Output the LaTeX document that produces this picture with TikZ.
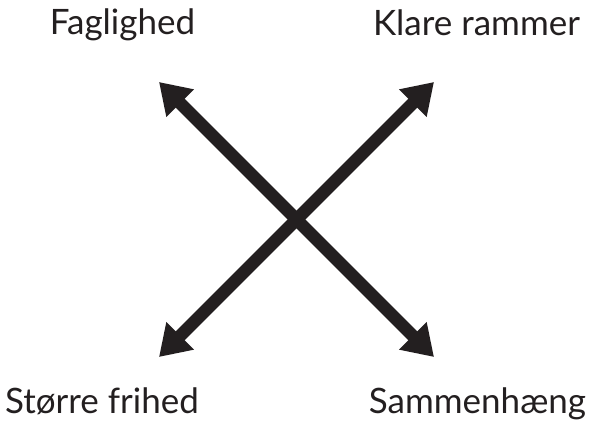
\documentclass[tikz,border=0pt]{standalone}
\usepackage{fontspec}
\setmainfont{Lato}
\usetikzlibrary{arrows.meta}
\definecolor{ink}{HTML}{231F20}
\tikzset{
  lbl/.style={anchor=base, inner sep=0pt, text=ink, font=\fontsize{35}{40}\selectfont},
  dbl/.style={draw=ink, line width=12.5pt, {Triangle[length=30pt,width=37pt]}-{Triangle[length=30pt,width=37pt]}}
}
\begin{document}
\begin{tikzpicture}[x=1pt,y=-1pt]
\useasboundingbox (0,0) rectangle (590,425);
\coordinate (tl) at (159,82);
\coordinate (tr) at (434,82);
\coordinate (bl) at (159,357);
\coordinate (br) at (434,357);
\draw[dbl] (tl) -- (br);
\draw[dbl] (tr) -- (bl);
\node[lbl] (fag) at (122.5,35) {Faglighed};
\node[lbl] (kla) at (476.5,36) {Klare rammer};
\node[lbl] (sto) at (102,413) {Større frihed};
\node[lbl] (sam) at (477.5,413) {Sammenhæng};
\end{tikzpicture}
\end{document}
